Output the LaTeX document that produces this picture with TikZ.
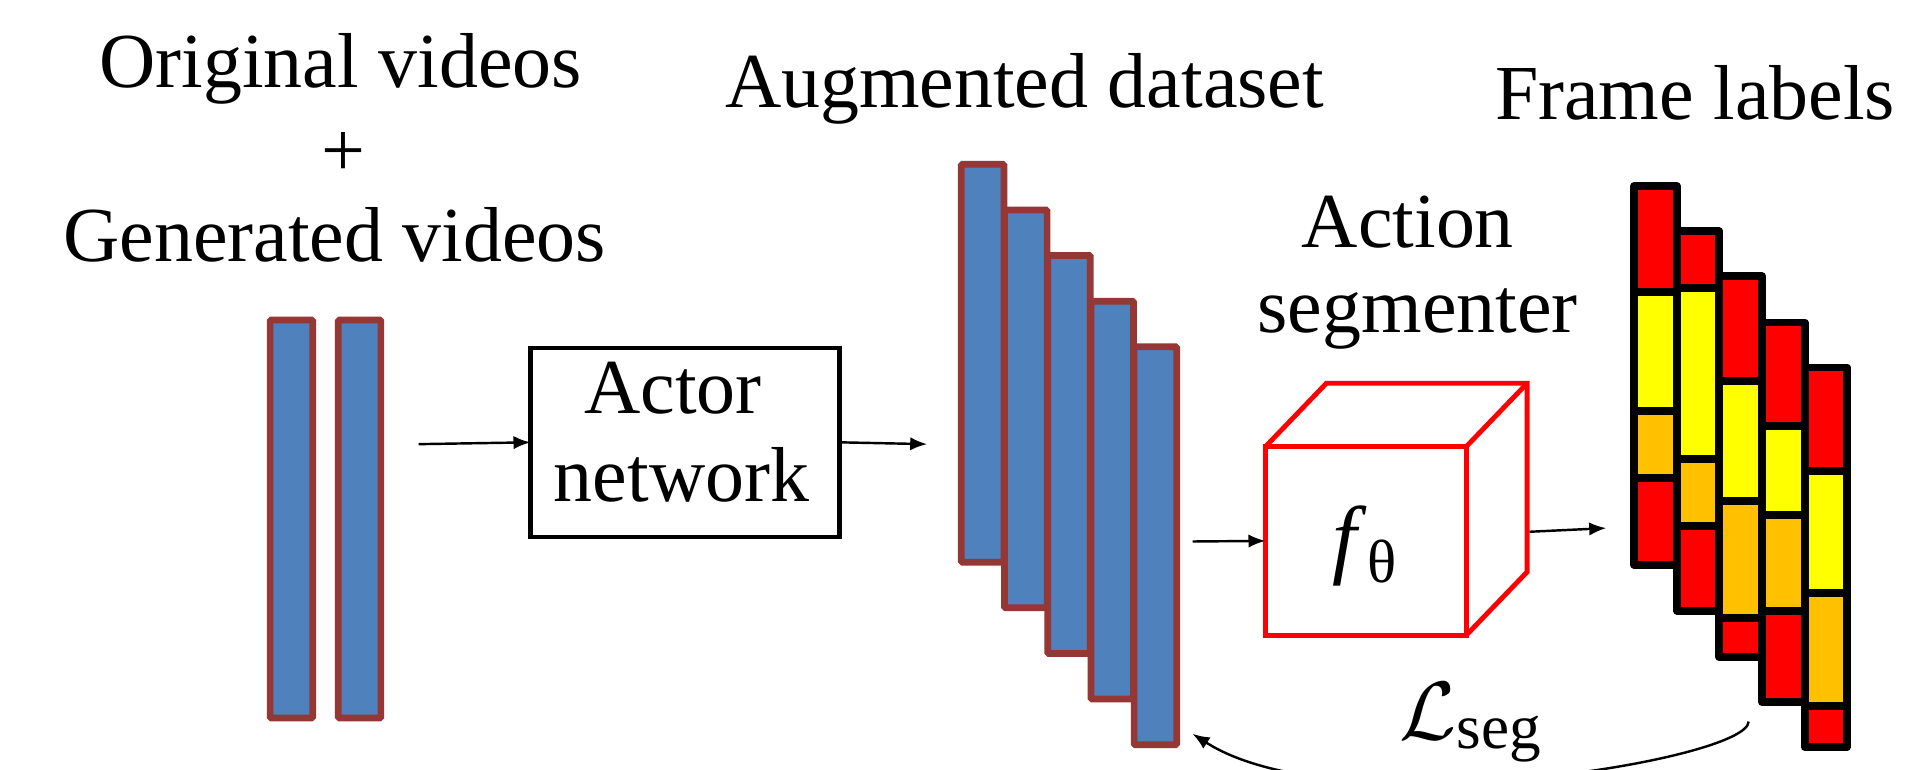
\RequirePackage{fix-cm}
\documentclass[tikz,border=0pt]{standalone}
\usepackage{fontspec}
\setmainfont{Liberation Serif}
\usetikzlibrary{arrows.meta}
\definecolor{barfill}{HTML}{4F81BD}
\definecolor{barline}{HTML}{953735}
\definecolor{lblred}{HTML}{FF0000}
\definecolor{lblyel}{HTML}{FFFF00}
\definecolor{lblora}{HTML}{FFC000}
\tikzset{
  vbar/.style={draw=barline, fill=barfill, line width=5.5pt, rounded corners=1pt,
    anchor=north west, minimum width=35pt, minimum height=327pt, inner sep=0pt, outer sep=0pt},
  lbl/.style={font=\fontsize{64}{70}\selectfont, inner sep=0pt, anchor=base},
  conn/.style={line width=2pt, -{Latex[length=14pt,width=11pt]}},
  segbox/.style={draw=black, line width=6.5pt, line join=round},
  cubeline/.style={draw=red, line width=4pt, line join=miter},
}
\newcommand\fseg[4]{\draw[segbox, fill=#4] (#1,#2) rectangle (#1+35,#3);}
\newcommand\fcol[6]{\fseg{#1}{#2}{#3}{lblred}\fseg{#1}{#3}{#4}{lblyel}\fseg{#1}{#4}{#5}{lblora}\fseg{#1}{#5}{#6}{lblred}}
\begin{document}
\begin{tikzpicture}[x=1pt,y=-1pt]
\useasboundingbox (0,0) rectangle (1568,632);
\clip (0,0) rectangle (1568,632);
\fill[white] (0,0) rectangle (1568,632);

% titles
\node[lbl] (t1) at (280,72) {Original videos};
\node[lbl] (t2) at (282,145) {+};
\node[lbl] (t3) at (275,215) {Generated videos};
\node[lbl] (t4) at (842,88) {Augmented dataset};
\node[lbl] (t5) at (1393,98) {Frame labels};
\node[lbl] (t6) at (1157,203) {Action};
\node[lbl] (t7) at (1165,273) {segmenter};

% input videos
\node[vbar] (v1) at (222,263) {};
\node[vbar] (v2) at (278,263) {};

% actor network
\node[draw, line width=3.5pt, minimum width=254pt, minimum height=155pt, inner sep=0pt, outer sep=0pt] (actor) at (563,363.5) {};
\node[lbl] (t8) at (553,340) {Actor};
\node[lbl] (t9) at (560,412) {network};

% augmented dataset
\node[vbar] (d1) at (790,135) {};
\node[vbar] (d2) at (825.5,172.5) {};
\node[vbar] (d3) at (861,210) {};
\node[vbar] (d4) at (896.5,247.5) {};
\node[vbar] (d5) at (932,285) {};

% action segmenter cube
\node[cubeline, minimum width=165pt, minimum height=155pt, inner sep=0pt, outer sep=0pt] (cube) at (1122.5,444.5) {};
\draw[cubeline] (cube.north west) -- ++(50,-52) -- ++(165,0) -- ++(0,155) -- (cube.south east);
\draw[cubeline] (cube.north east) -- ++(50,-52);
\node[lbl, anchor=base west] (ftheta) at (1095,466) {{\fontsize{72}{76}\selectfont\textit{f}}\raisebox{-13pt}{\fontsize{50}{54}\selectfont θ}};

% frame labels
\fcol{1343}{153}{240}{338}{393}{464}
\fcol{1378}{190}{237}{377}{432}{502}
\fcol{1413}{227}{313}{412}{508}{540}
\fcol{1448}{265}{350}{423}{502}{577}
\fcol{1483}{302}{387}{487}{580}{614}

% loss
\node[lbl, anchor=base west] (lseg) at (1150,608) {{\fontsize{68}{70}\selectfont$\mathcal{L}$}\raisebox{-7pt}{\fontsize{52}{56}\selectfont seg}};

% connectors
\coordinate (a1s) at (344,365);
\coordinate (a2e) at (762,365);
\coordinate (a3s) at (980,445);
\coordinate (a4s) at (1257,437);
\coordinate (a4e) at (1320,434);
\coordinate (fbs) at (1437,593);
\coordinate (fbe) at (980,603);
\draw[conn] (a1s) -- (actor.west);
\draw[conn] (actor.east) -- (a2e);
\draw[conn] (a3s) -- (cube.west);
\draw[conn] (a4s) -- (a4e);
\draw[conn] (fbs) .. controls (1437,625) and (1100,680) .. (fbe);
\end{tikzpicture}
\end{document}
